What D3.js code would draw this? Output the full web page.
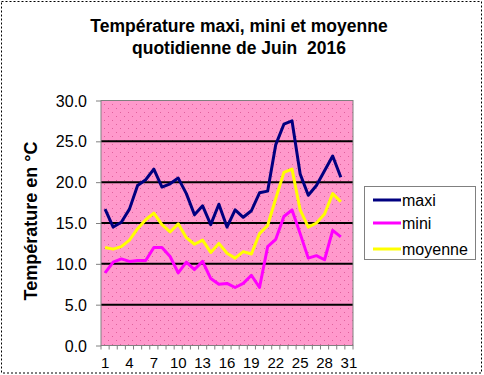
<!DOCTYPE html>
<html lang="fr">
<head>
<meta charset="UTF-8">
<title>Température Juin 2016</title>
<script src="https://cdn.jsdelivr.net/npm/d3@7"></script>
<style>
    body { margin: 0; background: #fff; }
    text { font-family: Arial, "Liberation Sans", sans-serif; fill: #000; }
    .axis path { display: none; }
    .axis line { stroke: #808080; }
    .axis text { font-size: 16px; }
</style>
</head>
<body>
<div id="chart"></div>
<script>
    // jours du mois (31 catégories, données pour 30)
    var categories = ["1","2","3","4","5","6","7","8","9","10","11","12","13","14","15","16",
        "17","18","19","20","21","22","23","24","25","26","27","28","29","30","31"];
    var days = ["1","2","3","4","5","6","7","8","9","10","11","12","13","14","15","16",
        "17","18","19","20","21","22","23","24","25","26","27","28","29","30"];
    var maxi = [16.7, 14.5, 15.1, 16.7, 19.6, 20.3, 21.6, 19.4, 19.8, 20.5, 18.6, 16.0, 17.1, 14.8, 17.3,
        14.5, 16.6, 15.7, 16.5, 18.7, 18.9, 24.6, 27.1, 27.5, 21.0, 18.4, 19.6, 21.4, 23.2, 20.6];
    var mini = [8.9, 10.2, 10.6, 10.3, 10.4, 10.4, 12.0, 12.0, 10.9, 8.9, 10.2, 9.3, 10.3, 8.2, 7.5,
        7.6, 7.1, 7.6, 8.6, 7.1, 12.1, 13.0, 15.8, 16.6, 13.7, 10.7, 11.0, 10.5, 14.1, 13.3];
    var moyenne = [12.0, 11.8, 12.1, 12.9, 14.3, 15.4, 16.2, 14.8, 13.9, 14.9, 13.2, 12.4, 12.9, 11.4, 12.5,
        11.3, 10.7, 11.5, 11.2, 13.7, 14.7, 18.0, 21.2, 21.6, 16.6, 14.5, 15.0, 16.1, 18.6, 17.6];
    var xLabels = ["1","4","7","10","13","16","19","22","25","28","31"];
    var yTicks = [0, 5, 10, 15, 20, 25, 30];

    var series = [
        { name: "maxi", values: maxi, color: "#000080" },
        { name: "mini", values: mini, color: "#FF00FF" },
        { name: "moyenne", values: moyenne, color: "#FFFF00" }
    ];

    var width = 484, height = 375;
    var plot = { left: 101, right: 353, top: 100.5, bottom: 345.5 };

    var svg = d3.select("#chart").append("svg")
        .attr("width", width)
        .attr("height", height);

    // cadre extérieur pointillé
    svg.append("rect")
        .attr("x", 1.5).attr("y", 1.5)
        .attr("width", width - 4).attr("height", height - 3.5)
        .attr("fill", "#fff")
        .attr("stroke", "#000")
        .attr("stroke-dasharray", "2,2");

    // motif de fond du graphique
    var pattern = svg.append("defs").append("pattern")
        .attr("id", "dots")
        .attr("width", 8).attr("height", 8)
        .attr("patternUnits", "userSpaceOnUse");
    pattern.append("rect").attr("width", 8).attr("height", 8).attr("fill", "#FF99CC");
    pattern.append("rect").attr("x", 0).attr("y", 0).attr("width", 1).attr("height", 1).attr("fill", "#E0609C");
    pattern.append("rect").attr("x", 4).attr("y", 4).attr("width", 1).attr("height", 1).attr("fill", "#E0609C");

    var x = d3.scaleBand()
        .domain(categories)
        .range([plot.left, plot.right]);

    var y = d3.scaleLinear()
        .domain([0, 30])
        .range([plot.bottom, plot.top]);

    svg.append("rect")
        .attr("x", plot.left).attr("y", plot.top)
        .attr("width", plot.right - plot.left)
        .attr("height", plot.bottom - plot.top)
        .attr("fill", "url(#dots)");

    // lignes de quadrillage
    svg.append("g")
        .selectAll("line")
        .data(yTicks.filter(function (d) { return d > 0 && d < 30; }))
        .enter().append("line")
        .attr("x1", plot.left).attr("x2", plot.right)
        .attr("y1", function (d) { return y(d); })
        .attr("y2", function (d) { return y(d); })
        .attr("stroke", "#000")
        .attr("stroke-width", 2);

    svg.append("rect")
        .attr("x", plot.left).attr("y", plot.top)
        .attr("width", plot.right - plot.left)
        .attr("height", plot.bottom - plot.top)
        .attr("fill", "none")
        .attr("stroke", "#808080");

    // axe Y
    var yAxis = svg.append("g")
        .attr("class", "axis")
        .attr("transform", "translate(" + plot.left + ",0)")
        .call(d3.axisLeft(y).tickValues(yTicks).tickSize(5).tickPadding(9)
            .tickFormat(d3.format(".1f")));
    yAxis.selectAll("text").attr("dy", "0.35em");

    // axe X : graduations aux limites des catégories
    var xAxis = svg.append("g")
        .attr("class", "axis")
        .attr("transform", "translate(0," + plot.bottom + ")");
    xAxis.selectAll("line")
        .data(categories.concat(["end"]))
        .enter().append("line")
        .attr("x1", function (d, i) { return plot.left + i * x.bandwidth(); })
        .attr("x2", function (d, i) { return plot.left + i * x.bandwidth(); })
        .attr("y1", 0).attr("y2", 4);
    xAxis.append("line")
        .attr("x1", plot.left).attr("x2", plot.right)
        .attr("y1", 0).attr("y2", 0);
    xAxis.selectAll("text")
        .data(xLabels)
        .enter().append("text")
        .attr("x", function (d) { return x(d) + x.bandwidth() / 2; })
        .attr("y", 22)
        .attr("text-anchor", "middle")
        .attr("style", "font-size:15px")
        .text(function (d) { return d; });

    // courbes
    var line = d3.line()
        .x(function (d, i) { return x(days[i]) + x.bandwidth() / 2; })
        .y(function (d) { return y(d); });

    svg.append("g")
        .selectAll("path")
        .data(series)
        .enter().append("path")
        .attr("d", function (d) { return line(d.values); })
        .attr("fill", "none")
        .attr("stroke", function (d) { return d.color; })
        .attr("stroke-width", 3)
        .attr("stroke-linejoin", "round");

    // titre
    var title = svg.append("text")
        .attr("x", 240)
        .attr("text-anchor", "middle")
        .attr("font-size", "17.5px")
        .attr("font-weight", "bold");
    title.append("tspan").attr("x", 239).attr("y", 32).text("Température maxi, mini et moyenne");
    title.append("tspan").attr("x", 239).attr("y", 54).text("quotidienne de Juin\u00a0 2016");

    // titre axe Y
    svg.append("text")
        .attr("transform", "translate(37,221) rotate(-90)")
        .attr("text-anchor", "middle")
        .attr("font-size", "18px")
        .attr("font-weight", "bold")
        .text("Température en °C");

    // légende
    var legend = svg.append("g");
    legend.append("rect")
        .attr("x", 364.5).attr("y", 186.5)
        .attr("width", 111).attr("height", 73)
        .attr("fill", "#fff")
        .attr("stroke", "#808080");
    var items = legend.selectAll("g.item")
        .data(series)
        .enter().append("g")
        .attr("class", "item")
        .attr("transform", function (d, i) { return "translate(0," + [200, 223, 249][i] + ")"; });
    items.append("line")
        .attr("x1", 373).attr("x2", 401)
        .attr("y1", 0).attr("y2", 0)
        .attr("stroke", function (d) { return d.color; })
        .attr("stroke-width", 3);
    items.append("text")
        .attr("x", 402)
        .attr("dy", "0.35em")
        .attr("font-size", "16px")
        .text(function (d) { return d.name; });
</script>
</body>
</html>
